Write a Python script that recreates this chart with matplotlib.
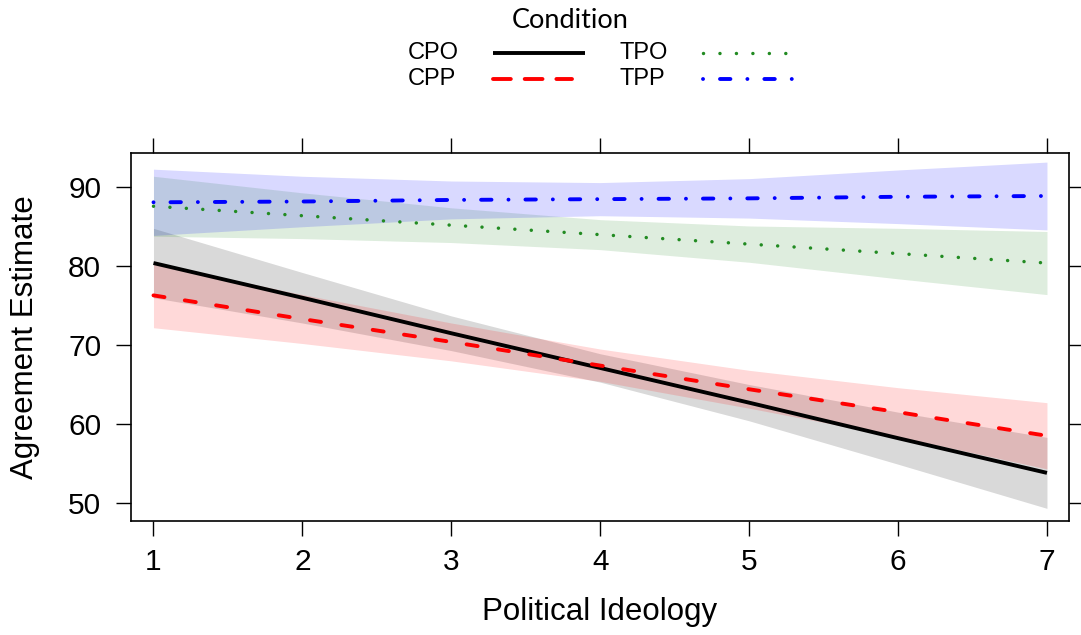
import matplotlib

matplotlib.use("Agg")
import matplotlib.pyplot as plt
from matplotlib.lines import Line2D
import numpy as np

plt.rcParams["font.family"] = ["Liberation Sans", "DejaVu Sans"]

# political ideology values where the effects were evaluated
ideology = [1, 2, 3, 4, 5, 6, 7]

conditions = ["CPO", "CPP", "TPO", "TPP"]

# fitted agreement estimate and confidence band per condition
cpo_fit = [80.4, 76.0, 71.5, 67.1, 62.7, 58.2, 53.8]
cpo_lower = [76.0, 72.8, 69.3, 65.3, 60.4, 54.9, 49.3]
cpo_upper = [84.8, 79.2, 73.7, 68.9, 65.0, 61.5, 58.3]

cpp_fit = [76.3, 73.3, 70.4, 67.4, 64.4, 61.5, 58.5]
cpp_lower = [72.2, 70.2, 68.0, 65.4, 62.0, 58.4, 54.3]
cpp_upper = [80.4, 76.4, 72.8, 69.5, 66.8, 64.6, 62.7]

tpo_fit = [87.6, 86.4, 85.2, 84.0, 82.8, 81.6, 80.4]
tpo_lower = [83.8, 83.5, 83.0, 82.1, 80.5, 78.4, 76.4]
tpo_upper = [91.4, 89.3, 87.4, 85.9, 85.1, 84.8, 84.4]

tpp_fit = [88.1, 88.2, 88.4, 88.5, 88.6, 88.8, 88.9]
tpp_lower = [83.9, 85.0, 86.0, 86.4, 86.1, 85.4, 84.6]
tpp_upper = [92.3, 91.4, 90.8, 90.6, 91.1, 92.2, 93.2]

fits = [cpo_fit, cpp_fit, tpo_fit, tpp_fit]
lowers = [cpo_lower, cpp_lower, tpo_lower, tpp_lower]
uppers = [cpo_upper, cpp_upper, tpo_upper, tpp_upper]

colors = ["black", "#ff0000", "#228b22", "#0000ff"]
widths = [2.8, 2.8, 2.5, 2.8]
dashes = [None, [2.86, 5.29], [0.01, 4.73], [0.01, 4.36, 2.68, 4.36]]
key_dashes = [None, [4.58, 3.57], [0.01, 4.73], [0.01, 4.36, 2.68, 4.36]]

fig = plt.figure(figsize=(10.81, 6.35), dpi=100)
ax = fig.add_axes([131 / 1081, 1 - 521 / 635, 938 / 1081, 368 / 635])

for fit, lo, hi, col, lw, d in zip(fits, lowers, uppers, colors, widths, dashes):
    ax.fill_between(ideology, lo, hi, color=col, alpha=0.15, linewidth=0)
    ln, = ax.plot(ideology, fit, color=col, linewidth=lw,
                  solid_capstyle="butt", dash_capstyle="round")
    if d is not None:
        ln.set_dashes(d)

ax.set_xlim(0.849, 7.148)
ax.set_ylim(47.7, 94.35)
ax.set_xticks(ideology)
ax.set_yticks([50, 60, 70, 80, 90])
ax.tick_params(direction="out", length=10.5, width=1.0, labelsize=21.5,
               top=True, right=True)
ax.tick_params(axis="x", pad=9)
ax.tick_params(axis="y", pad=11)
for s in ax.spines.values():
    s.set_linewidth(1.2)

ax.set_xlabel("Political Ideology", fontsize=22.5, labelpad=15)
ax.set_ylabel("Agreement Estimate", fontsize=22.5, labelpad=20)

# legend across the top
fig.text(570 / 1081, 1 - 20 / 635, "Condition", family=["Lato", "DejaVu Sans"],
         fontsize=19.5, ha="center", va="center")
label_x = [408, 408, 620, 620]
key_x = [(493, 585), (493, 572), (703, 787), (703, 795)]
row_y = [53, 79, 53, 79]
for name, lx, (k0, k1), ry, col, lw, d in zip(conditions, label_x, key_x, row_y,
                                              colors, widths, key_dashes):
    fig.text(lx / 1081, 1 - ry / 635, name, fontsize=17, ha="left", va="center")
    key = Line2D([k0 / 1081, k1 / 1081], [1 - ry / 635, 1 - ry / 635],
                 transform=fig.transFigure, color=col, linewidth=lw,
                 solid_capstyle="butt", dash_capstyle="round")
    if d is not None:
        key.set_dashes(d)
    fig.add_artist(key)

fig.savefig("out.png", dpi=100)
